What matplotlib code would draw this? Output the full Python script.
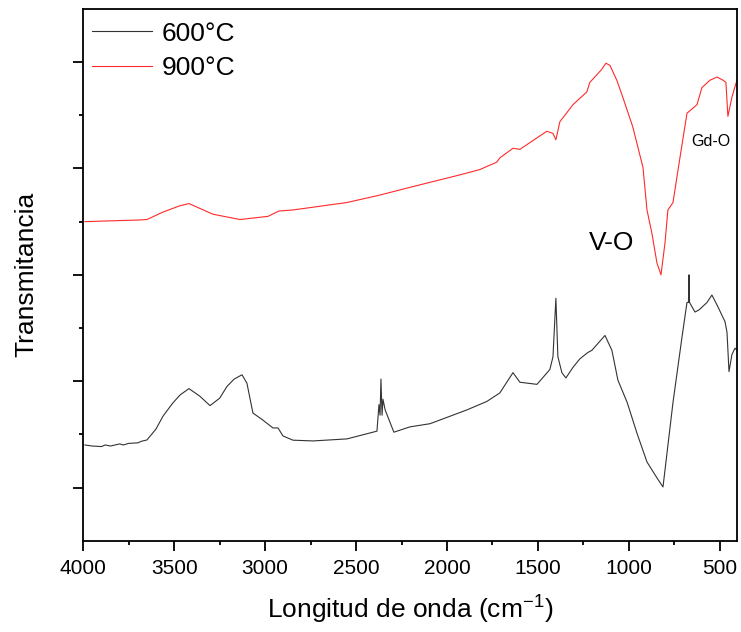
import matplotlib
matplotlib.use("Agg")
import matplotlib.pyplot as plt
import numpy as np

plt.rcParams['font.family'] = ['Liberation Sans', 'DejaVu Sans']
plt.rcParams['mathtext.fontset'] = 'custom'
plt.rcParams['mathtext.rm'] = 'Liberation Sans'
plt.rcParams['mathtext.it'] = 'Liberation Sans:italic'

# FTIR spectra, wavenumber (cm-1) vs transmittance (arb. units, offset)
wn_600 = [3991, 3950, 3900, 3880, 3850, 3800, 3780, 3750, 3700, 3680, 3650,
          3600, 3562, 3510, 3468, 3419, 3360, 3303, 3250, 3210, 3170, 3127, 3100, 3067,
          3017, 2957, 2929, 2902, 2847, 2737, 2550, 2385, 2374, 2368, 2363,
          2357, 2352, 2340, 2292, 2204, 2093, 1890, 1780, 1709, 1637, 1599,
          1505, 1434, 1417, 1401, 1390, 1368, 1346, 1307, 1269, 1225, 1203,
          1131, 1093, 1060, 1009, 955, 900, 845, 812, 757, 707, 680, 672, 669, 666,
          636, 614, 570, 543, 510, 488, 471, 460, 449, 433, 416, 405]
t_600 = [0.90, 0.89, 0.885, 0.90, 0.89, 0.91, 0.90, 0.915, 0.92, 0.935, 0.947,
         1.05, 1.17, 1.29, 1.37, 1.43, 1.36, 1.27, 1.34, 1.45, 1.52, 1.56, 1.48, 1.20,
         1.14, 1.06, 1.06, 0.985, 0.945, 0.938, 0.957, 1.03, 1.28, 1.18, 1.52,
         1.18, 1.33, 1.23, 1.02, 1.07, 1.10, 1.23, 1.31, 1.39, 1.58, 1.49,
         1.47, 1.61, 1.73, 2.28, 1.73, 1.58, 1.53, 1.63, 1.71, 1.77, 1.79,
         1.93, 1.79, 1.51, 1.30, 1.01, 0.74, 0.59, 0.505, 1.30, 1.92, 2.24, 2.24, 2.50, 2.24,
         2.15, 2.17, 2.24, 2.31, 2.20, 2.12, 2.06, 1.96, 1.59, 1.75, 1.81, 1.79]

wn_900 = [3991, 3900, 3800, 3700, 3650, 3562, 3468, 3419, 3287, 3138, 2984,
          2924, 2847, 2550, 2369, 2187, 1929, 1819, 1726, 1709, 1637, 1599,
          1451, 1417, 1401, 1379, 1307, 1231, 1214, 1150, 1126, 1104, 1066, 1033,
          978, 922, 900, 873, 845, 823, 801, 785, 757, 718, 680, 625, 598,
          554, 515, 482, 466, 455, 433, 416, 405]
t_900 = [3.00, 3.005, 3.01, 3.015, 3.02, 3.09, 3.15, 3.17, 3.07, 3.02, 3.05,
         3.10, 3.11, 3.18, 3.25, 3.33, 3.44, 3.49, 3.56, 3.60, 3.69, 3.68,
         3.85, 3.83, 3.77, 3.94, 4.10, 4.22, 4.31, 4.43, 4.49, 4.47, 4.33, 4.17,
         3.89, 3.51, 3.11, 2.89, 2.61, 2.50, 2.80, 3.11, 3.18, 3.61, 4.02, 4.10, 4.26,
         4.33, 4.36, 4.33, 4.31, 3.99, 4.17, 4.27, 4.33]

x_ticks = [4000, 3500, 3000, 2500, 2000, 1500, 1000, 500]


def main():
    fig = plt.figure(figsize=(7.41, 6.32), dpi=100)
    ax = fig.add_axes([0.1124, 0.1445, 0.8822, 0.8413])

    ax.plot(wn_600, t_600, color="#333333", linewidth=0.8, label="600°C")
    ax.plot(wn_900, t_900, color="#ff2a2a", linewidth=0.8, label="900°C")

    ax.set_xlim(4000, 405)
    ax.set_ylim(0, 5.0)

    ax.set_xticks(x_ticks)
    ax.set_xticks(np.arange(3750, 400, -500), minor=True)
    ax.set_yticks([0.5, 1.5, 2.5, 3.5, 4.5])
    ax.set_yticks([1, 2, 3, 4], minor=True)
    ax.set_yticklabels([])

    ax.tick_params(axis="both", which="major", direction="out", length=7.5,
                   width=1.3, labelsize=15, pad=6)
    ax.tick_params(axis="both", which="minor", direction="out", length=3,
                   width=1.3)
    for s in ax.spines.values():
        s.set_linewidth(1.3)

    ax.set_xlabel("Longitud de onda (cm$^{\\mathrm{-1}}$)", fontsize=19, labelpad=11)
    ax.set_ylabel("Transmitancia", fontsize=19, labelpad=19)

    # band labels
    ax.text(1093, 2.80, "V-O", fontsize=19, ha="center", va="center")
    ax.text(549, 3.75, "Gd-O", fontsize=11.5, ha="center", va="center")

    ax.legend(loc="upper left", bbox_to_anchor=(0.013, 0.976), frameon=False,
              fontsize=19, handlelength=2.3, handletextpad=0.35,
              labelspacing=0.4, borderpad=0, borderaxespad=0)

    fig.savefig("out.png", dpi=100)


if __name__ == "__main__":
    main()
